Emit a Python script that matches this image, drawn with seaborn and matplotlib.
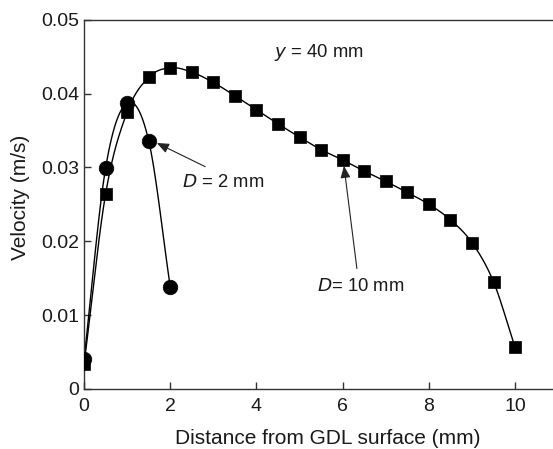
import numpy as np
import pandas as pd
import matplotlib
matplotlib.use("Agg")
import matplotlib.pyplot as plt
import seaborn as sns

x10 = [0, 0.5, 1, 1.5, 2, 2.5, 3, 3.5, 4, 4.5, 5, 5.5, 6, 6.5, 7, 7.5, 8, 8.5, 9, 9.5, 10]
v10 = [0.0033, 0.0264, 0.0375, 0.0422, 0.0435, 0.0429, 0.0415, 0.0397, 0.0378, 0.0359,
       0.0341, 0.0324, 0.0310, 0.0295, 0.0281, 0.0266, 0.0250, 0.0229, 0.0198, 0.0145, 0.0056]
x2 = [0, 0.5, 1, 1.5, 2]
v2 = [0.0040, 0.0299, 0.0387, 0.0336, 0.0138]
xticks = [0, 2, 4, 6, 8, 10]
yticks = [0, 0.01, 0.02, 0.03, 0.04, 0.05]
ytick_labels = ["0", "0.01", "0.02", "0.03", "0.04", "0.05"]


def smooth(x, y, n=20):
    # Catmull-Rom curve through the points (for drawing only)
    x = np.asarray(x, float); y = np.asarray(y, float)
    px = np.concatenate([[2 * x[0] - x[1]], x, [2 * x[-1] - x[-2]]])
    py = np.concatenate([[2 * y[0] - y[1]], y, [2 * y[-1] - y[-2]]])
    xs, ys = [], []
    t = np.linspace(0, 1, n, endpoint=False)
    for i in range(1, len(px) - 2):
        for p, out in ((px, xs), (py, ys)):
            p0, p1, p2, p3 = p[i - 1], p[i], p[i + 1], p[i + 2]
            out.extend(0.5 * ((2 * p1) + (-p0 + p2) * t + (2 * p0 - 5 * p1 + 4 * p2 - p3) * t ** 2
                              + (-p0 + 3 * p1 - 3 * p2 + p3) * t ** 3))
    xs.append(x[-1]); ys.append(y[-1])
    return np.array(xs), np.array(ys)


sns.set_theme(style="ticks")
plt.rcParams['font.family'] = ['Liberation Sans', 'DejaVu Sans']
txt = "#1a1a1a"

fig = plt.figure(figsize=(5.53, 4.49), dpi=100)
ax = fig.add_axes([0.152, 0.134, 0.848, 0.822])

for xs_, vs_, mk, ms in ((x10, v10, "s", 75), (x2, v2, "o", 110)):
    sx, sy = smooth(xs_, vs_)
    sns.lineplot(x=sx, y=sy, ax=ax, color="black", lw=1.0, sort=False, estimator=None)
    sns.scatterplot(x=xs_, y=vs_, ax=ax, marker=mk, s=ms, color="black", edgecolor="black",
                    linewidth=0.5, zorder=3)

ax.set_xlim(0, 10.88)
ax.set_ylim(0, 0.05)
ax.set_xticks(xticks)
ax.set_xticklabels([str(t) for t in xticks])
ax.set_yticks(yticks)
ax.set_yticklabels(ytick_labels)
ax.tick_params(direction="in", length=5, width=1, labelsize=14, colors="#333333", labelcolor=txt)
ax.tick_params(axis="y", pad=3.5)
ax.tick_params(axis="x", pad=6.5)
ax.spines["right"].set_visible(False)
for s in ("left", "bottom", "top"):
    ax.spines[s].set_color("#333333")
    ax.spines[s].set_linewidth(1.0)
ax.set_xlabel("Distance from GDL surface (mm)", fontsize=15, color=txt)
ax.set_ylabel("Velocity (m/s)", fontsize=15, color=txt)
ax.xaxis.set_label_coords(0.52, -0.108)
ax.yaxis.set_label_coords(-0.115, 0.518)

ax.text(5.44, 0.0455, r"$\it{y}$ = 40 mm", fontsize=13.3, ha="center", va="center", color=txt)
ax.text(2.27, 0.0280, r"$\it{D}$ = 2 mm", fontsize=13.3, ha="left", va="center", color=txt)
ax.text(5.41, 0.0138, r"$\it{D}$= 10 mm", fontsize=13.3, ha="left", va="center", color=txt)
arrow = dict(arrowstyle="-|>,head_length=0.6,head_width=0.25", color="#222222", lw=0.8,
             shrinkA=0, shrinkB=0)
ax.annotate("", xy=(1.69, 0.0333), xytext=(2.81, 0.0301), arrowprops=arrow)
ax.annotate("", xy=(6.03, 0.0302), xytext=(6.33, 0.0163), arrowprops=arrow)

fig.savefig("out.png", dpi=100)
